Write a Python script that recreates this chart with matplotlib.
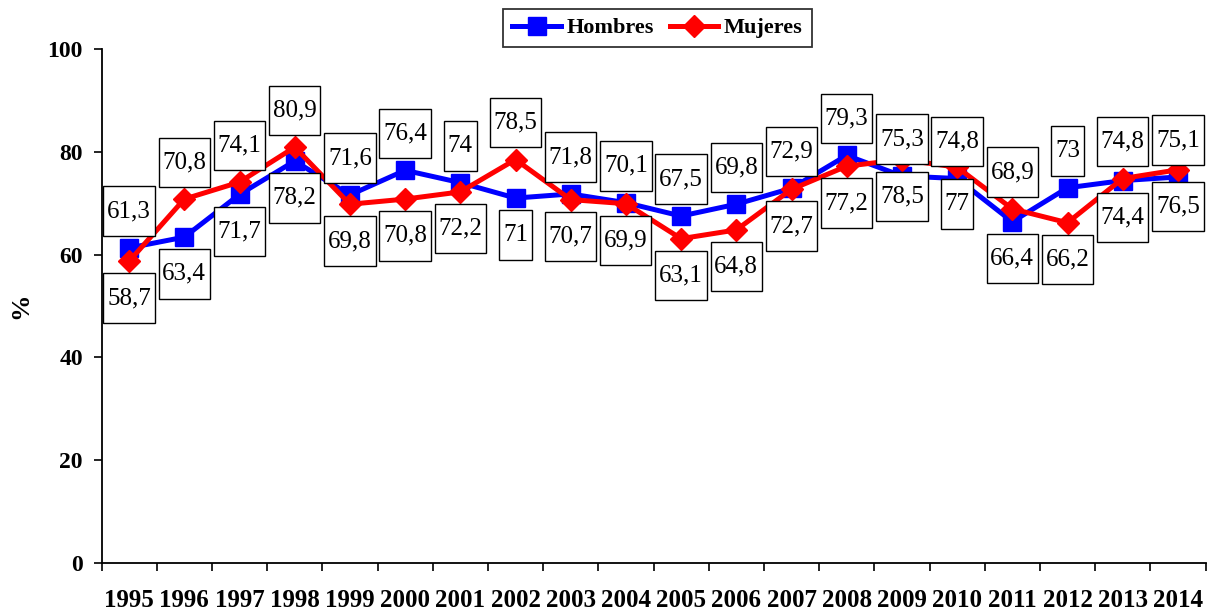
import matplotlib.pyplot as plt
from matplotlib.path import Path

plt.rcParams['font.family'] = ['Liberation Serif', 'DejaVu Serif']

# data
years = list(range(1995, 2015))
hombres = [61.3, 63.4, 71.7, 78.2, 71.6, 76.4, 74, 71, 71.8, 70.1,
           67.5, 69.8, 72.9, 79.3, 75.3, 74.8, 66.4, 73, 74.4, 75.1]
mujeres = [58.7, 70.8, 74.1, 80.9, 69.8, 70.8, 72.2, 78.5, 70.7, 69.9,
           63.1, 64.8, 72.7, 77.2, 78.5, 77, 68.9, 66.2, 74.8, 76.5]
# where the Hombres label sits (Mujeres gets the opposite side)
hombres_up = [True, False, False, False, True, True, True, False, True, True,
              True, True, True, True, True, True, False, True, False, True]

fig = plt.figure(figsize=(12.1, 6.12), dpi=100)
ax = fig.add_axes([101.5 / 1210, 49 / 612, 1104 / 1210, 514 / 612])

x = list(range(len(years)))
ax.plot(x, hombres, color='#0000ff', linewidth=3.6, marker='s', markersize=12.5,
        label='Hombres', zorder=3)
ax.plot(x, mujeres, color='#ff0000', linewidth=3.6, marker='D', markersize=10.8,
        label='Mujeres', zorder=4)

def fmt(v):
    s = ('%.1f' % v).rstrip('0').rstrip('.')
    return s.replace('.', ',')

# box with more padding top/bottom than left/right, like the Excel labels
def label_box(x0, y0, width, height, mutation_size):
    px = 0.15 * mutation_size
    py = 0.55 * mutation_size
    x0, y0 = x0 - px, y0 - py
    x1, y1 = x0 + width + 2 * px, y0 + height + 2 * py
    return Path([(x0, y0), (x1, y0), (x1, y1), (x0, y1), (x0, y0)], closed=True)

box = dict(boxstyle=label_box, facecolor='white', edgecolor='black', linewidth=1)
for i in reversed(x):
    for val, up in ((hombres[i], hombres_up[i]), (mujeres[i], not hombres_up[i])):
        dy = 26.5 if up else -26.5
        ax.annotate(fmt(val), (i, val), xytext=(0, dy), textcoords='offset points',
                    ha='center', va='center', fontsize=18, bbox=box, zorder=5)

ax.set_xlim(-0.5, len(years) - 0.5)
ax.set_ylim(0, 100)
ax.set_yticks([0, 20, 40, 60, 80, 100])
ax.set_xticks([i - 0.5 for i in x] + [len(years) - 0.5])
ax.set_xticklabels([])
ax.set_xticks(x, minor=True)
ax.set_xticklabels([str(y) for y in years], minor=True, fontweight='bold', fontsize=18)
ax.tick_params(axis='x', which='minor', length=0, pad=19)
ax.tick_params(axis='x', which='major', length=6, width=1.2, direction='out')
ax.tick_params(axis='y', length=5.5, width=1.2, direction='out', labelsize=17, pad=8)
for t in ax.get_yticklabels():
    t.set_fontweight('bold')
for s in ('left', 'bottom'):
    ax.spines[s].set_linewidth(1.3)
ax.spines['top'].set_visible(False)
ax.spines['right'].set_visible(False)
ax.set_ylabel('%', fontsize=19, fontweight='bold')
ax.yaxis.set_label_coords(-0.063, 0.5)

leg = ax.legend(loc='upper center', bbox_to_anchor=(0.5036, 1.078), ncol=2,
                frameon=True, fancybox=False, edgecolor='black', handlelength=2.2,
                columnspacing=0.7, handletextpad=0.25, borderpad=0.4,
                borderaxespad=0, prop={'weight': 'bold', 'size': 16})
leg.get_frame().set_linewidth(1.3)

plt.savefig('out.png', dpi=100)
